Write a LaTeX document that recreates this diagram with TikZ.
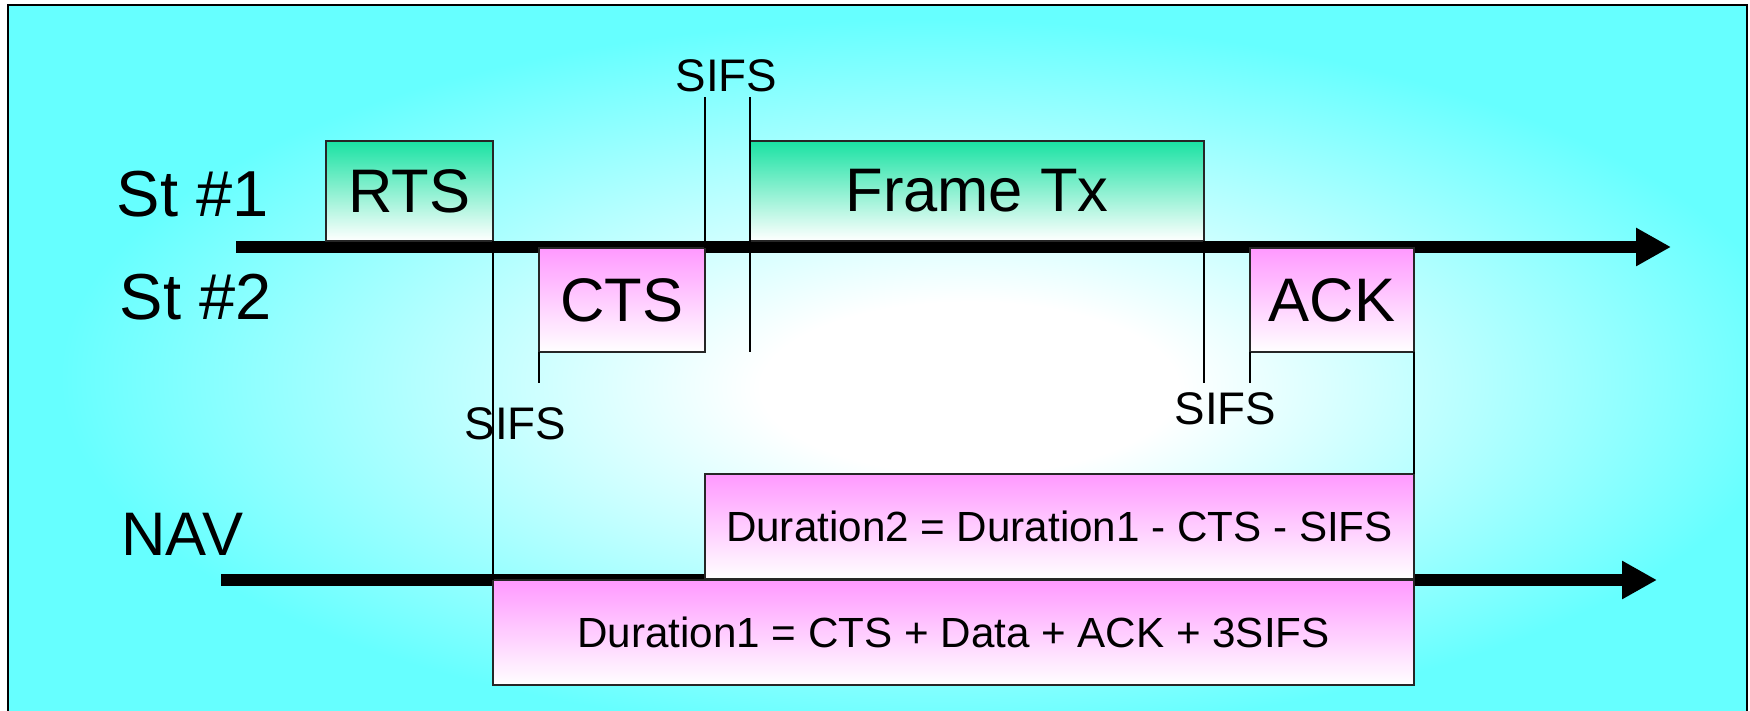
\documentclass[tikz,border=0pt]{standalone}
\usepackage{fontspec}
\setmainfont{Liberation Sans}
\usetikzlibrary{arrows.meta}
\definecolor{bgcyan}{RGB}{102,255,255}
\definecolor{boxgreen}{RGB}{26,226,163}
\definecolor{boxpink}{RGB}{255,153,255}
\pgfdeclareradialshading{glow}{\pgfpoint{3bp}{-2bp}}{color(0bp)=(white); color(6bp)=(white); color(25bp)=(bgcyan); color(50bp)=(bgcyan)}
\begin{document}
\begin{tikzpicture}
	\tikzstyle{station}=[inner sep=0pt, anchor=base west, font=\fontsize{18.5}{20}\selectfont]
	\tikzstyle{greenbox}=[draw=black!85, line width=0.45pt, top color=boxgreen, bottom color=white, inner sep=0pt, outer sep=0pt, font=\fontsize{17.5}{20}\selectfont]
	\tikzstyle{pinkbox}=[greenbox, top color=boxpink]
	\tikzstyle{durbox}=[pinkbox, font=\fontsize{12}{14}\selectfont]
	\tikzstyle{sifs}=[inner sep=0pt, anchor=base, font=\fontsize{13}{15}\selectfont]
	\tikzstyle{timeline}=[line width=0.12cm, -{Triangle[length=0.35cm, width=0.36cm]}]
	\tikzstyle{guide}=[line width=0.45pt]
	% Background
	\useasboundingbox (0,0) rectangle (17.5,-7.11);
	\fill[bgcyan] (0.08,-0.05) rectangle (17.47,-7.2);
	\shade[shading=glow] (0.08,-0.05) rectangle (17.47,-7.2);
	\draw[line width=0.7pt] (0.08,-7.2) -- (0.08,-0.05) -- (17.47,-0.05) -- (17.47,-7.2);
	% Stations
	\node[station] (st_one) at (1.16,-2.17) {St \#1};
	\node[station] (st_two) at (1.19,-3.20) {St \#2};
	\node[station, font=\fontsize{17.5}{20}\selectfont] (nav) at (1.205,-5.55) {NAV};
	% Time lines
	\coordinate (top_start) at (2.36,-2.47);
	\coordinate (top_end) at (16.71,-2.47);
	\coordinate (nav_start) at (2.21,-5.80);
	\coordinate (nav_end) at (16.57,-5.80);
	\draw[timeline] (top_start) -- (top_end);
	\draw[timeline] (nav_start) -- (nav_end);
	% Frames
	\node[greenbox, minimum width=1.67cm, minimum height=1.0cm] (rts) at (4.095,-1.91) {RTS};
	\node[greenbox, minimum width=4.54cm, minimum height=1.0cm] (frametx) at (9.77,-1.91) {Frame Tx};
	\node[pinkbox, minimum width=1.66cm, minimum height=1.04cm] (cts) at (6.22,-3.00) {CTS};
	\node[pinkbox, minimum width=1.64cm, minimum height=1.04cm] (ack) at (13.32,-3.00) {ACK};
	% NAV durations
	\node[durbox, minimum width=7.09cm, minimum height=1.05cm] (dur_two) at (10.595,-5.265) {Duration2 = Duration1 - CTS - SIFS};
	\node[durbox, minimum width=9.21cm, minimum height=1.05cm] (dur_one) at (9.535,-6.325) {Duration1 = CTS + Data + ACK + 3SIFS};
	% SIFS gaps
	\node[sifs] (sifs_top) at (7.265,-0.92) {SIFS};
	\node[sifs] (sifs_left) at (5.155,-4.40) {SIFS};
	\node[sifs] (sifs_right) at (12.255,-4.25) {SIFS};
	\coordinate (sifs_hi) at (0,-0.97);
	\coordinate (sifs_lo) at (0,-3.83);
	\draw[guide] (cts.north east) -- (cts.north east |- sifs_hi);
	\draw[guide] (frametx.north west |- sifs_hi) -- (frametx.north west |- cts.south);
	\draw[guide] (cts.south west) -- (cts.south west |- sifs_lo);
	\draw[guide] (rts.south east) -- (dur_one.north west);
	\draw[guide] (frametx.south east) -- (frametx.south east |- sifs_lo);
	\draw[guide] (ack.south west) -- (ack.south west |- sifs_lo);
	\draw[guide] (ack.south east) -- (dur_two.north east);
\end{tikzpicture}
\end{document}
